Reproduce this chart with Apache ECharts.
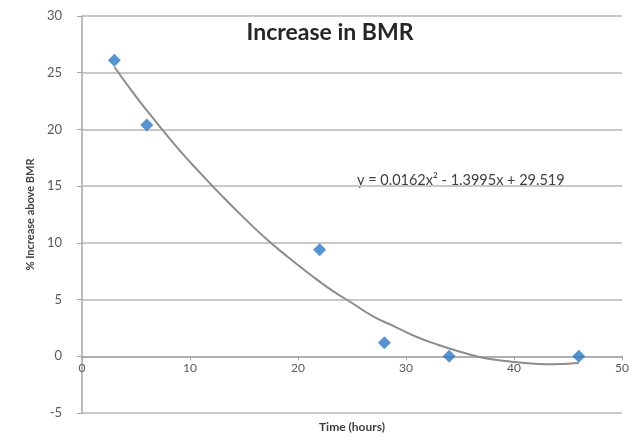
<!DOCTYPE html>
<html>
<head>
<meta charset="utf-8">
<script src="https://cdn.jsdelivr.net/npm/echarts@6/dist/echarts.min.js"></script>
<style>
  html, body { margin: 0; padding: 0; background: #fff; }
  #chart { width: 636px; height: 437px; }
</style>
</head>
<body>
<div id="chart"></div>
<script>
// measured points (hours, % increase)
const hours = [3, 6, 22, 28, 34, 46];
const increase = [26.1, 20.4, 9.4, 1.2, 0.0, 0.0];

// trendline
const trendX = [3, 5, 7, 9, 11, 13, 15, 17, 19, 21, 23, 25, 27, 29, 31, 33, 35, 37, 39, 41, 43, 45, 46];
const trendY = [25.5, 22.9, 20.5, 18.2, 16.1, 14.1, 12.2, 10.4, 8.8, 7.3, 5.9, 4.7, 3.5, 2.6, 1.7, 1.0, 0.4, -0.1, -0.4, -0.6, -0.7, -0.65, -0.6];

const equation = "y = 0.0162x\u00b2 - 1.3995x + 29.519";

const chart = echarts.init(document.getElementById("chart"));

// grid: 30 at y=16, -5 at y=413 -> 0 sits 5/35 of the height above the bottom
const gridH = 437 - 16 - 24;
const zeroOffset = -gridH * 5 / 35;

const option = {
  backgroundColor: "#fff",
  animation: false,
  title: {
    text: "Increase in BMR",
    left: 325,
    top: 16,
    textAlign: "center",
    textStyle: { fontFamily: "Lato", fontSize: 23, fontWeight: "bold", color: "#262626" },
  },
  grid: { left: 82, right: 14, top: 16, bottom: 24, outerBoundsMode: "none", containLabel: false },
  xAxis: {
    type: "value",
    min: 0,
    max: 50,
    interval: 10,
    offset: zeroOffset,
    name: "Time (hours)",
    nameLocation: "middle",
    nameGap: 65,
    nameTextStyle: { fontFamily: "Lato", fontSize: 12, fontWeight: "bold", color: "#404040" },
    axisLine: { onZero: false, lineStyle: { color: "#a6a6a6", width: 1.5 } },
    axisTick: { show: true, length: 4, lineStyle: { color: "#a6a6a6" } },
    axisLabel: { fontFamily: "Lato", fontSize: 12, color: "#595959", margin: 6 },
    splitLine: { show: false },
  },
  yAxis: {
    type: "value",
    min: -5,
    max: 30,
    interval: 5,
    name: "% Increase above BMR",
    nameLocation: "middle",
    nameGap: 44,
    nameTextStyle: { fontFamily: "Lato", fontSize: 11, fontWeight: "bold", color: "#404040" },
    axisLine: { show: true, onZero: false, lineStyle: { color: "#a6a6a6", width: 1.5 } },
    axisTick: { show: true, length: 5, lineStyle: { color: "#a6a6a6" } },
    axisLabel: { fontFamily: "Lato", fontSize: 13, color: "#595959", margin: 20 },
    splitLine: { show: true, lineStyle: { color: "#c8c8c8", width: 2 } },
  },
  series: [
    {
      name: "Trend",
      type: "line",
      data: trendX.map((x, i) => [x, trendY[i]]),
      smooth: true,
      showSymbol: false,
      lineStyle: { color: "#8c8c8c", width: 2 },
      z: 2,
    },
    {
      name: "BMR",
      type: "scatter",
      data: hours.map((x, i) => [x, increase[i]]),
      symbol: "diamond",
      symbolSize: 13,
      itemStyle: { color: "#2e78c0" },
      z: 3,
    },
  ],
  graphic: [
    {
      type: "text",
      left: 357,
      top: 173,
      style: { text: equation, fontFamily: "Lato", fontSize: 14.5, fill: "#404040" },
    },
  ],
};

chart.setOption(option);
</script>
</body>
</html>
